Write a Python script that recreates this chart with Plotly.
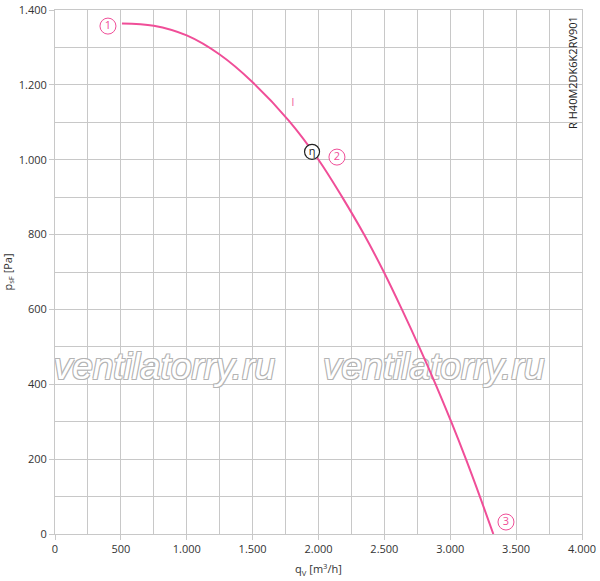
"""
Fan curve: static pressure vs. volume flow for RH40M2DK6K2RV901
"""

import plotly.graph_objects as go

# ── Data ──────────────────────────────────────────────────────────────────────

flow_m3h = [508, 750, 1000, 1250, 1500, 1776, 2000, 2180, 2346,
            2496, 2633, 2764, 2889, 3007, 3119, 3225, 3327]   # q_V [m3/h]
pressure_pa = [1364, 1358, 1332, 1281, 1207, 1104, 1000, 900, 800,
               700, 600, 500, 400, 300, 200, 100, 0]          # p_sF [Pa]

point_labels = ["1", "2", "3"]         # circled curve markers
point_q = [402, 2140, 3423]
point_p = [1357, 1007, 32]

eta_q = [1951]                         # efficiency marker
eta_p = [1021]

curve_tag_q = [1806]                   # "I" curve tag
curve_tag_p = [1149]

watermark_q = [830, 2875]              # watermark centres
watermark_p = [438, 438]

MODEL = "R H40M2DK6K2RV901"

# ── Styling ───────────────────────────────────────────────────────────────────

PINK = "#f04e98"
GRID = "#c8c8c8"
FONT = "Open Sans"
OUTLINE = "#b4b4b4"

fig = go.Figure()

# watermark, drawn first so the curve lies on top
fig.add_trace(go.Scatter(
    x=watermark_q, y=watermark_p, mode="text",
    text=["ventilatorry.ru"] * 2,
    textfont=dict(family="Liberation Sans", size=37, color="white", style="italic",
                  shadow=f"-1px -1px 0 {OUTLINE}, 1px -1px 0 {OUTLINE}, "
                         f"-1px 1px 0 {OUTLINE}, 1px 1px 0 {OUTLINE}"),
    hoverinfo="skip",
))

# fan curve
fig.add_trace(go.Scatter(
    x=flow_m3h, y=pressure_pa, mode="lines",
    line=dict(color=PINK, width=2, shape="spline", smoothing=1.0),
    hovertemplate="q<sub>V</sub>=%{x} m³/h<br>p<sub>sF</sub>=%{y} Pa<extra></extra>",
))

# circled numbers
fig.add_trace(go.Scatter(
    x=point_q, y=point_p, mode="markers+text", text=point_labels,
    marker=dict(symbol="circle", size=16, color="white", line=dict(color=PINK, width=1)),
    textfont=dict(family=FONT, size=11, color=PINK),
    textposition="middle center", hoverinfo="skip",
))

# eta marker
fig.add_trace(go.Scatter(
    x=eta_q, y=eta_p, mode="markers+text", text=["η"],
    marker=dict(symbol="circle", size=15, color="white", line=dict(color="#222", width=1.2)),
    textfont=dict(family=FONT, size=11, color="#222"),
    textposition="middle center", hoverinfo="skip",
))

# curve tag
fig.add_trace(go.Scatter(
    x=curve_tag_q, y=curve_tag_p, mode="text", text=["I"],
    textfont=dict(family=FONT, size=10, color=PINK), hoverinfo="skip",
))

fig.add_annotation(
    x=0.983, y=0.88, xref="paper", yref="paper",
    xanchor="center", yanchor="middle",
    text=MODEL, textangle=-90, showarrow=False,
    font=dict(family=FONT, size=11, color="#222"),
)

axis_common = dict(
    showgrid=True, gridcolor=GRID, gridwidth=1,
    showline=True, linecolor=GRID, linewidth=1, mirror=True,
    ticks="outside", ticklen=5, tickcolor=GRID,
    tickfont=dict(family=FONT, size=11, color="#333"),
    zeroline=False, tickformat=",d", automargin=False,
    ticklabeloverflow="allow",
)

fig.update_xaxes(
    range=[0, 4000], dtick=500,
    minor=dict(dtick=250, showgrid=True, gridcolor=GRID, ticks=""),
    title=dict(text="q<sub>V</sub> [m<sup>3</sup>/h]", standoff=10,
               font=dict(family=FONT, size=11, color="#333")),
    **axis_common,
)
fig.update_yaxes(
    range=[0, 1400], dtick=200,
    minor=dict(dtick=100, showgrid=True, gridcolor=GRID, ticks=""),
    title=dict(text="p<sub>sF</sub> [Pa]", standoff=6,
               font=dict(family=FONT, size=11, color="#333")),
    **axis_common,
)

fig.update_layout(
    width=600, height=581,
    margin=dict(l=55, r=18, t=10, b=47),
    plot_bgcolor="white", paper_bgcolor="white",
    showlegend=False, separators=",.",
)

# drop the page's default body margin so the figure sits at the window corner
fig.write_html("out.html", config={"displayModeBar": False},
               post_script="document.body.style.margin = '0';")
